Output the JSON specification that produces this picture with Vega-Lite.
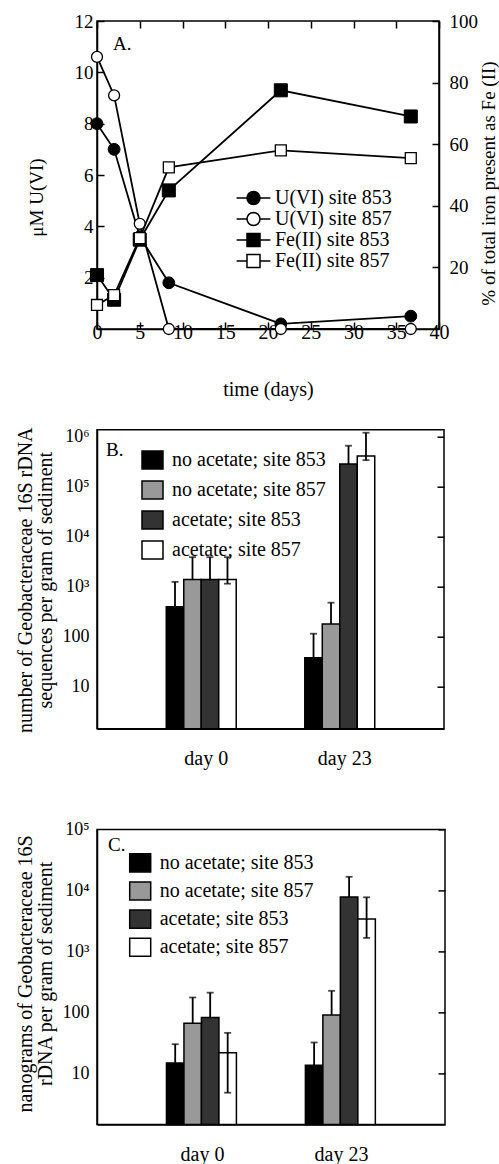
{
  "$schema": "https://vega.github.io/schema/vega-lite/v6.json",
  "padding": {"left": 14, "top": 11, "right": 0, "bottom": 0},
  "background": "white",
  "config": {
    "font": "Liberation Serif",
    "view": {"stroke": "black", "strokeWidth": 1.5},
    "axis": {"labelFont": "Liberation Serif", "titleFont": "Liberation Serif", "labelColor": "black", "titleColor": "black", "domainColor": "black", "tickColor": "black", "labelFontSize": 19, "titleFontSize": 20, "titleFontWeight": "normal", "grid": false, "labelFlush": false, "labelOverlap": false, "domainWidth": 1.5, "tickWidth": 1.5},
    "legend": {"labelFont": "Liberation Serif", "labelColor": "black", "labelLimit": 400, "labelFontSize": 20, "labelFontWeight": "normal"}
  },
  "datasets": {
    "A": [
      {"t": 0, "s": "U(VI) site 853", "v": 8.0},
      {"t": 2, "s": "U(VI) site 853", "v": 7.0},
      {"t": 5, "s": "U(VI) site 853", "v": 3.6},
      {"t": 8.4, "s": "U(VI) site 853", "v": 1.8},
      {"t": 21.5, "s": "U(VI) site 853", "v": 0.2},
      {"t": 36.7, "s": "U(VI) site 853", "v": 0.5},
      {"t": 0, "s": "U(VI) site 857", "v": 10.6},
      {"t": 2, "s": "U(VI) site 857", "v": 9.1},
      {"t": 5, "s": "U(VI) site 857", "v": 4.1},
      {"t": 8.4, "s": "U(VI) site 857", "v": 0},
      {"t": 21.5, "s": "U(VI) site 857", "v": 0},
      {"t": 36.7, "s": "U(VI) site 857", "v": 0},
      {"t": 0, "s": "Fe(II) site 853", "v": 17.5},
      {"t": 2, "s": "Fe(II) site 853", "v": 9.5},
      {"t": 5, "s": "Fe(II) site 853", "v": 29},
      {"t": 8.4, "s": "Fe(II) site 853", "v": 45},
      {"t": 21.5, "s": "Fe(II) site 853", "v": 77.5},
      {"t": 36.7, "s": "Fe(II) site 853", "v": 69},
      {"t": 0, "s": "Fe(II) site 857", "v": 7.8},
      {"t": 2, "s": "Fe(II) site 857", "v": 11},
      {"t": 5, "s": "Fe(II) site 857", "v": 29.5},
      {"t": 8.4, "s": "Fe(II) site 857", "v": 52.5},
      {"t": 21.5, "s": "Fe(II) site 857", "v": 58},
      {"t": 36.7, "s": "Fe(II) site 857", "v": 55.5}
    ],
    "B": [
      {"day": "day 0", "g": "no acetate; site 853", "v": 400, "lo": 400, "hi": 1250},
      {"day": "day 0", "g": "no acetate; site 857", "v": 1400, "lo": 1400, "hi": 3900},
      {"day": "day 0", "g": "acetate; site 853", "v": 1400, "lo": 1400, "hi": 3900},
      {"day": "day 0", "g": "acetate; site 857", "v": 1400, "lo": 1150, "hi": 3900},
      {"day": "day 23", "g": "no acetate; site 853", "v": 38, "lo": 38, "hi": 115},
      {"day": "day 23", "g": "no acetate; site 857", "v": 180, "lo": 180, "hi": 480},
      {"day": "day 23", "g": "acetate; site 853", "v": 285000, "lo": 285000, "hi": 660000},
      {"day": "day 23", "g": "acetate; site 857", "v": 410000, "lo": 340000, "hi": 1200000}
    ],
    "C": [
      {"day": "day 0", "g": "no acetate; site 853", "v": 14.7, "lo": 14.7, "hi": 30},
      {"day": "day 0", "g": "no acetate; site 857", "v": 66, "lo": 66, "hi": 175},
      {"day": "day 0", "g": "acetate; site 853", "v": 82, "lo": 82, "hi": 210},
      {"day": "day 0", "g": "acetate; site 857", "v": 21.7, "lo": 4.8, "hi": 46},
      {"day": "day 23", "g": "no acetate; site 853", "v": 13.5, "lo": 13.5, "hi": 32},
      {"day": "day 23", "g": "no acetate; site 857", "v": 90, "lo": 90, "hi": 225},
      {"day": "day 23", "g": "acetate; site 853", "v": 7800, "lo": 7800, "hi": 16700},
      {"day": "day 23", "g": "acetate; site 857", "v": 3400, "lo": 1660, "hi": 7700}
    ]
  },
  "bounds": "flush",
  "spacing": 100.7,
  "resolve": {"scale": {"fill": "independent", "shape": "independent"}, "legend": {"fill": "independent", "shape": "independent"}},
  "vconcat": [
    {
      "width": 342,
      "height": 308,
      "data": {"name": "A"},
      "title": {"text": "A.", "anchor": "start", "frame": "group", "orient": "top", "offset": -50.7, "dx": 16, "baseline": "middle", "fontSize": 19, "fontWeight": "normal", "font": "Liberation Serif", "color": "black"},
      "layer": [
        {
          "encoding": {
            "x": {"field": "t", "type": "quantitative", "scale": {"domain": [0, 40], "nice": false, "zero": false},
              "axis": {"orient": "bottom", "values": [0, 5, 10, 15, 20, 25, 30, 35, 40], "tickSize": -7, "labelPadding": 0, "labelFontSize": 20, "title": "time (days)", "titleX": 171, "titleY": 60, "titleBaseline": "middle", "titleAlign": "center"}},
            "y": {"field": "v", "type": "quantitative", "scale": {"domain": [0, 12], "nice": false, "zero": false},
              "axis": {"orient": "left", "values": [2, 4, 6, 8, 10, 12], "tickSize": -7, "labelPadding": 11, "title": "μM U(VI)", "titleX": -70, "titleY": 176, "titleBaseline": "top", "titleAngle": 270, "titleAlign": "center", "titleFontSize": 19}}
          },
          "layer": [
            {"transform": [{"filter": {"field": "s", "oneOf": ["U(VI) site 853", "U(VI) site 857"]}}],
              "mark": {"type": "line", "color": "black", "strokeWidth": 1.8},
              "encoding": {"detail": {"field": "s", "type": "nominal"}}},
            {"transform": [{"filter": {"field": "s", "equal": "U(VI) site 853"}}],
              "mark": {"type": "point", "shape": "circle", "filled": true, "fill": "black", "stroke": "black", "strokeWidth": 1, "size": 140, "opacity": 1}},
            {"transform": [{"filter": {"field": "s", "equal": "U(VI) site 857"}}],
              "mark": {"type": "point", "shape": "circle", "filled": true, "fill": "white", "stroke": "black", "strokeWidth": 1.3, "size": 120, "opacity": 1}},
            {
              "transform": [{"filter": {"field": "s", "oneOf": ["U(VI) site 853", "U(VI) site 857"]}}],
              "mark": {"type": "point", "filled": true, "opacity": 0, "stroke": "black"},
              "encoding": {
                "fill": {"field": "s", "type": "nominal",
                  "scale": {"domain": ["U(VI) site 853", "U(VI) site 857", "Fe(II) site 853", "Fe(II) site 857"], "range": ["black", "white", "black", "white"]},
                  "legend": {"orient": "none", "legendX": 146.5, "legendY": 167, "title": null, "symbolSize": 169, "symbolStrokeColor": "black", "symbolStrokeWidth": 1.5, "symbolOpacity": 1, "labelOffset": 11.5, "rowPadding": 1, "padding": 0, "labelFontSize": 20,
                    "encode": {"symbols": {"update": {"stroke": {"value": "black"}, "strokeWidth": {"value": 1.5}, "opacity": {"value": 1}}}}}},
                "shape": {"field": "s", "type": "nominal",
                  "scale": {"domain": ["U(VI) site 853", "U(VI) site 857", "Fe(II) site 853", "Fe(II) site 857"],
                    "range": ["M-2.6,0L-1,0M1,0L2.6,0M1,0L0.924,0.383L0.707,0.707L0.383,0.924L0,1L-0.383,0.924L-0.707,0.707L-0.924,0.383L-1,0L-0.924,-0.383L-0.707,-0.707L-0.383,-0.924L0,-1L0.383,-0.924L0.707,-0.707L0.924,-0.383Z", "M-2.6,0L-1,0M1,0L2.6,0M1,0L0.924,0.383L0.707,0.707L0.383,0.924L0,1L-0.383,0.924L-0.707,0.707L-0.924,0.383L-1,0L-0.924,-0.383L-0.707,-0.707L-0.383,-0.924L0,-1L0.383,-0.924L0.707,-0.707L0.924,-0.383Z", "M-2.6,0L-1,0M1,0L2.6,0M-1,-1L1,-1L1,1L-1,1Z", "M-2.6,0L-1,0M1,0L2.6,0M-1,-1L1,-1L1,1L-1,1Z"]},
                  "legend": {"orient": "none", "legendX": 146.5, "legendY": 167, "title": null, "symbolSize": 169, "symbolStrokeColor": "black", "symbolStrokeWidth": 1.5, "symbolOpacity": 1, "labelOffset": 11.5, "rowPadding": 1, "padding": 0, "labelFontSize": 20,
                    "encode": {"symbols": {"update": {"stroke": {"value": "black"}, "strokeWidth": {"value": 1.5}, "opacity": {"value": 1}}}}}}
              }
            }
          ]
        },
        {
          "encoding": {
            "x": {"field": "t", "type": "quantitative", "scale": {"domain": [0, 40], "nice": false, "zero": false},
              "axis": {"orient": "top", "values": [0, 5, 10, 15, 20, 25, 30, 35, 40], "tickSize": -7, "labels": false, "title": null, "domain": false, "minExtent": 0, "maxExtent": 0}},
            "y": {"field": "v", "type": "quantitative", "scale": {"domain": [0, 100], "nice": false, "zero": false},
              "axis": {"orient": "right", "values": [20, 40, 60, 80, 100], "tickSize": -7, "labelPadding": 17, "title": "% of total iron present as Fe (II)", "titleX": 40, "titleY": 162, "titleBaseline": "top", "titleAngle": 270, "titleAlign": "center", "titleFontSize": 19}}
          },
          "layer": [
            {"transform": [{"filter": {"field": "s", "oneOf": ["Fe(II) site 853", "Fe(II) site 857"]}}],
              "mark": {"type": "line", "color": "black", "strokeWidth": 1.8},
              "encoding": {"detail": {"field": "s", "type": "nominal"}}},
            {"transform": [{"filter": {"field": "s", "equal": "Fe(II) site 853"}}],
              "mark": {"type": "point", "shape": "square", "filled": true, "fill": "black", "stroke": "black", "strokeWidth": 1, "size": 170, "opacity": 1}},
            {"transform": [{"filter": {"field": "s", "equal": "Fe(II) site 857"}}],
              "mark": {"type": "point", "shape": "square", "filled": true, "fill": "white", "stroke": "black", "strokeWidth": 1.3, "size": 120, "opacity": 1}}
          ]
        }
      ],
      "resolve": {"scale": {"y": "independent"}, "axis": {"x": "independent", "y": "independent"}}
    },
    {
      "width": 347,
      "height": 299,
      "data": {"name": "B"},
      "title": {"text": "B.", "anchor": "start", "frame": "group", "orient": "top", "offset": -41.6, "dx": 9, "baseline": "middle", "fontSize": 19, "fontWeight": "normal", "font": "Liberation Serif", "color": "black"},
      "encoding": {
        "x": {"field": "day", "type": "nominal", "sort": ["day 0", "day 23"], "scale": {"paddingInner": 0.495, "paddingOuter": 0.5},
          "axis": {"title": null, "labelAngle": 0, "ticks": false, "labelPadding": 20, "labelFontSize": 20, "labelOffset": 5, "labelBaseline": "top"}},
        "xOffset": {"field": "g", "type": "nominal", "sort": ["no acetate; site 853", "no acetate; site 857", "acetate; site 853", "acetate; site 857"], "scale": {"paddingInner": 0, "paddingOuter": 0}}
      },
      "layer": [
        {
          "mark": {"type": "bar", "stroke": "black", "strokeWidth": 1.5},
          "encoding": {
            "y": {"field": "v", "type": "quantitative", "scale": {"type": "log", "domain": [1.45, 1380000], "nice": false},
              "axis": {"orient": "left", "values": [10, 100, 1000, 10000, 100000, 1000000],
                "labelExpr": "datum.value >= 999999 ? '10⁶' : datum.value >= 99999 ? '10⁵' : datum.value >= 9999 ? '10⁴' : datum.value >= 999 ? '10³' : datum.value >= 99 ? '100' : '10'",
                "ticks": false, "labelPadding": 8, "labelFontSize": 18,
                "title": ["number of Geobacteraceae 16S rDNA", "sequences per gram of sediment"], "titleX": -82, "titleY": 150, "titleBaseline": "top", "titleAngle": 270, "titleAlign": "center", "titleFontSize": 20, "titleLineHeight": 20}},
            "y2": {"datum": 1.45},
            "fill": {"field": "g", "type": "nominal",
              "scale": {"domain": ["no acetate; site 853", "no acetate; site 857", "acetate; site 853", "acetate; site 857"], "range": ["black", "#999999", "#333333", "white"]},
              "legend": {"orient": "none", "legendX": 44, "legendY": 18.8, "title": null, "symbolType": "M-1,-0.86L1,-0.86L1,0.86L-1,0.86Z", "symbolSize": 441, "symbolStrokeColor": "black", "symbolStrokeWidth": 1.5, "labelOffset": 8, "rowPadding": 5, "padding": 0, "labelFontSize": 20}}
          }
        },
        {
          "mark": {"type": "rule", "color": "black", "strokeWidth": 1.8},
          "encoding": {
            "y": {"field": "lo", "type": "quantitative", "axis": {"orient": "right", "values": [10, 100, 1000, 10000, 100000, 1000000], "labels": false, "tickSize": -7, "title": null, "domain": false}},
            "y2": {"field": "hi"}
          }
        },
        {
          "mark": {"type": "tick", "color": "black", "thickness": 1.8, "size": 7},
          "encoding": {"y": {"field": "hi", "type": "quantitative", "axis": null}}
        },
        {
          "transform": [{"filter": "datum.lo < datum.v"}],
          "mark": {"type": "tick", "color": "black", "thickness": 1.8, "size": 7},
          "encoding": {"y": {"field": "lo", "type": "quantitative", "axis": null}}
        }
      ],
      "resolve": {"axis": {"y": "independent"}}
    },
    {
      "width": 348,
      "height": 295,
      "data": {"name": "C"},
      "title": {"text": "C.", "anchor": "start", "frame": "group", "orient": "top", "offset": -43.3, "dx": 11, "baseline": "middle", "fontSize": 19, "fontWeight": "normal", "font": "Liberation Serif", "color": "black"},
      "encoding": {
        "x": {"field": "day", "type": "nominal", "sort": ["day 0", "day 23"], "scale": {"paddingInner": 0.495, "paddingOuter": 0.5},
          "axis": {"title": null, "labelAngle": 0, "ticks": false, "labelPadding": 19.6, "labelFontSize": 20, "labelOffset": 1, "labelBaseline": "top"}},
        "xOffset": {"field": "g", "type": "nominal", "sort": ["no acetate; site 853", "no acetate; site 857", "acetate; site 853", "acetate; site 857"], "scale": {"paddingInner": 0, "paddingOuter": 0}}
      },
      "layer": [
        {
          "mark": {"type": "bar", "stroke": "black", "strokeWidth": 1.5},
          "encoding": {
            "y": {"field": "v", "type": "quantitative", "scale": {"type": "log", "domain": [1.45, 100000], "nice": false},
              "axis": {"orient": "left", "values": [10, 100, 1000, 10000, 100000],
                "labelExpr": "datum.value >= 99999 ? '10⁵' : datum.value >= 9999 ? '10⁴' : datum.value >= 999 ? '10³' : datum.value >= 99 ? '100' : '10'",
                "ticks": false, "labelPadding": 8, "labelFontSize": 18,
                "title": ["nanograms of Geobacteraceae 16S", "rDNA per gram of sediment"], "titleX": -82, "titleY": 144, "titleBaseline": "top", "titleAngle": 270, "titleAlign": "center", "titleFontSize": 20, "titleLineHeight": 20}},
            "y2": {"datum": 1.45},
            "fill": {"field": "g", "type": "nominal",
              "scale": {"domain": ["no acetate; site 853", "no acetate; site 857", "acetate; site 853", "acetate; site 857"], "range": ["black", "#999999", "#333333", "white"]},
              "legend": {"orient": "none", "legendX": 31.7, "legendY": 22, "title": null, "symbolType": "M-1,-0.86L1,-0.86L1,0.86L-1,0.86Z", "symbolSize": 441, "symbolStrokeColor": "black", "symbolStrokeWidth": 1.5, "labelOffset": 8, "rowPadding": 3.1, "padding": 0, "labelFontSize": 20}}
          }
        },
        {
          "mark": {"type": "rule", "color": "black", "strokeWidth": 1.8},
          "encoding": {
            "y": {"field": "lo", "type": "quantitative", "axis": {"orient": "right", "values": [10, 100, 1000, 10000, 100000], "labels": false, "tickSize": -7, "title": null, "domain": false}},
            "y2": {"field": "hi"}
          }
        },
        {
          "mark": {"type": "tick", "color": "black", "thickness": 1.8, "size": 7},
          "encoding": {"y": {"field": "hi", "type": "quantitative", "axis": null}}
        },
        {
          "transform": [{"filter": "datum.lo < datum.v"}],
          "mark": {"type": "tick", "color": "black", "thickness": 1.8, "size": 7},
          "encoding": {"y": {"field": "lo", "type": "quantitative", "axis": null}}
        }
      ],
      "resolve": {"axis": {"y": "independent"}}
    }
  ]
}
